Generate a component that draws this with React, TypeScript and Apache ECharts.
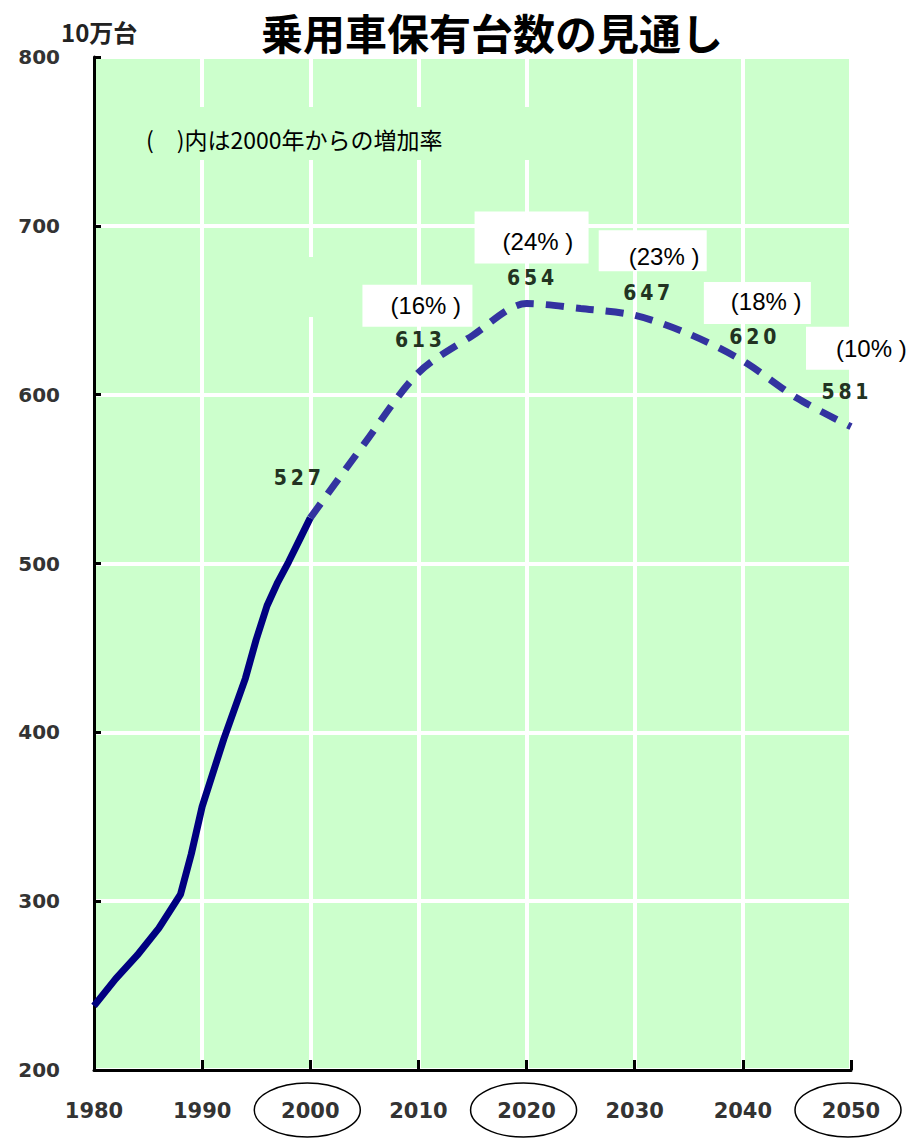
import React, { useEffect, useRef } from "react";
import * as echarts from "echarts";

const solidYears = [1980, 1982, 1984, 1986, 1988, 1989, 1990, 1992, 1994, 1995, 1996, 1997, 1998, 1999, 2000];
const solidValues = [238, 254, 268, 284, 304, 328, 356, 396, 432, 455, 475, 489, 501, 514, 527];

const forecastYears = [2000, 2005, 2010, 2015, 2020, 2025, 2030, 2035, 2040, 2045, 2050];
const forecastValues = [527, 571, 613, 635, 654, 651, 647, 636, 620, 598, 581];

const labelYears = [2000, 2010, 2020, 2030, 2040, 2050];
const labelValues = [527, 613, 654, 647, 620, 581];
const labelPercents = ["", "16%", "24%", "23%", "18%", "10%"];
const circledYears = [2000, 2020, 2050];

const title = "乗用車保有台数の見通し";
const unitText = "10万台";
const noteText = "(　)内は2000年からの増加率";

// layout offsets (pixels) for annotation placement relative to each point
const valueOffsets = [[-13, -40], [0, -33], [4, -25], [12, -22], [10, -24], [-6, -35]];
const boxOffsets = [null, [-56, -88, 110, 42], [-52, -92, 114, 52], [-36, -85, 108, 41], [-39, -79, 107, 42], [-45, -100, 99, 43]];
const pctTextOffsets = [null, [-28, -67], [-24, -62], [-6, -59], [-12, -59], [-15, -78]];

export default function App() {
  const ref = useRef<HTMLDivElement>(null);
  useEffect(() => {
    if (!ref.current) return;
    const chart = echarts.init(ref.current, null, { renderer: "svg" });
    const green = "#ccffcc";
    chart.setOption({
      animation: false,
      backgroundColor: "#ffffff",
      title: {
        text: title,
        left: 256,
        top: 5,
        textStyle: { fontSize: 42, fontWeight: "bold", color: "#000", fontFamily: "Noto Sans CJK JP" },
      },
      grid: {
        left: 94,
        right: 59,
        top: 57,
        bottom: 68,
        show: true,
        backgroundColor: green,
        borderWidth: 0,
      },
      xAxis: {
        type: "value",
        min: 1980,
        max: 2050,
        interval: 10,
        axisLine: { show: true, lineStyle: { color: "#000", width: 3 } },
        axisTick: { show: true, inside: true, length: 10, lineStyle: { color: "#000", width: 3 } },
        axisLabel: {
          margin: 30,
          fontSize: 21,
          fontWeight: "bold",
          color: "#333",
          fontFamily: "DejaVu Sans",
          formatter: (v: number) => String(v),
        },
        splitLine: { show: true, lineStyle: { color: "#ffffff", width: 4 } },
      },
      yAxis: {
        type: "value",
        min: 200,
        max: 800,
        interval: 100,
        axisLine: { show: true, lineStyle: { color: "#000", width: 3 } },
        axisTick: { show: true, inside: true, length: 7, lineStyle: { color: "#000", width: 3 } },
        axisLabel: {
          margin: 34,
          fontSize: 20,
          fontWeight: "bold",
          color: "#333",
          fontFamily: "DejaVu Sans",
        },
        splitLine: { show: true, lineStyle: { color: "#ffffff", width: 4 } },
      },
      series: [
        {
          type: "line",
          data: solidYears.map((y, i) => [y, solidValues[i]]),
          showSymbol: false,
          symbol: "none",
          lineStyle: { color: "#000080", width: 7 },
          z: 5,
        },
        {
          type: "line",
          data: forecastYears.map((y, i) => [y, forecastValues[i]]),
          showSymbol: false,
          symbol: "none",
          smooth: 0.3,
          lineStyle: { color: "#3333a0", width: 7, type: [18, 12] },
          z: 5,
        },
      ],
    });

    const graphics: any[] = [];
    graphics.push({ type: "rect", shape: { x: 140, y: 107, width: 460, height: 53 }, style: { fill: green }, z: 1 });
    graphics.push({ type: "rect", shape: { x: 225, y: 257, width: 100, height: 60 }, style: { fill: green }, z: 1 });
    graphics.push({
      type: "text",
      x: 146,
      y: 139,
      style: { text: noteText, fontSize: 23, fill: "#000", fontFamily: "Noto Sans CJK JP", textVerticalAlign: "middle" },
      z: 10,
    });
    graphics.push({
      type: "text",
      x: 61,
      y: 31,
      style: { text: unitText, fontSize: 24, fontWeight: "bold", fill: "#222", fontFamily: "Noto Sans CJK JP", textVerticalAlign: "middle" },
      z: 10,
    });

    labelYears.forEach((yr, i) => {
      const p = chart.convertToPixel({ gridIndex: 0 }, [yr, labelValues[i]]) as number[];
      const vo = valueOffsets[i];
      graphics.push({
        type: "text",
        x: p[0] + vo[0],
        y: p[1] + vo[1],
        style: {
          text: String(labelValues[i]).split("").join("\u2009"),
          fontSize: 21,
          fontWeight: "bold",
          fill: "#223322",
          fontFamily: "DejaVu Sans Condensed, DejaVu Sans",
          textAlign: "center",
          textVerticalAlign: "middle",
        },
        z: 10,
      });
      const bo = boxOffsets[i];
      const to = pctTextOffsets[i];
      if (bo && to && labelPercents[i]) {
        graphics.push({
          type: "rect",
          shape: { x: p[0] + bo[0], y: p[1] + bo[1], width: bo[2], height: bo[3] },
          style: { fill: "#ffffff" },
          z: 8,
        });
        graphics.push({
          type: "text",
          x: p[0] + to[0],
          y: p[1] + to[1],
          style: {
            text: "(" + labelPercents[i] + " )",
            fontSize: 24,
            fill: "#000",
            fontFamily: "Liberation Sans Narrow, Liberation Sans",
            textVerticalAlign: "middle",
          },
          z: 10,
        });
      }
    });

    circledYears.forEach((yr) => {
      const p = chart.convertToPixel({ gridIndex: 0 }, [yr, 200]) as number[];
      graphics.push({
        type: "ellipse",
        shape: { cx: p[0] - 3, cy: 1110, rx: 53, ry: 27 },
        style: { fill: "none", stroke: "#000", lineWidth: 1.5 },
        z: 10,
      });
    });

    chart.setOption({ graphic: graphics });
    return () => chart.dispose();
  }, []);
  return <div ref={ref} style={{ position: "absolute", left: 0, top: 0, width: 910, height: 1138 }} />;
}
